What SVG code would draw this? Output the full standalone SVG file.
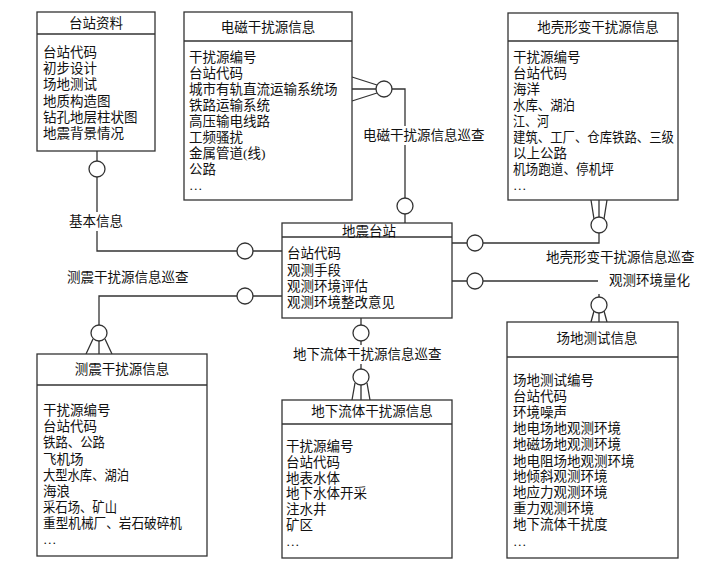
<svg xmlns="http://www.w3.org/2000/svg" width="701" height="573" viewBox="0 0 701 573">
<style>
text{font-family:"Liberation Serif","Noto Sans CJK SC",serif;font-size:13.5px;fill:#111}
.t{text-anchor:middle}
.box{fill:#fff;stroke:#333;stroke-width:1.3}
.ln{fill:none;stroke:#333;stroke-width:1.3}
.c{fill:#fff;stroke:#333;stroke-width:1.3}
.bg{fill:#fff}
</style>
<rect width="701" height="573" fill="#fff"/>
<g id="connectors">
<path class="ln" d="M97,151 V251 H282"/>
<path class="ln" d="M282,296 H99 V354 M93,339 L86,354 M105,339 L112,354"/>
<path class="ln" d="M352,89 H405 V223 M352,77 L377,85 M352,101 L377,93"/>
<path class="ln" d="M452,243 H599 V200 M594,219 L591,200 M604,219 L607,200"/>
<path class="ln" d="M452,281 H598 M599,294 V322 M594,311 L591,322 M604,311 L607,322"/>
<path class="ln" d="M361,318 V400 M355,383 L352,400 M367,383 L370,400"/>
<circle class="c" cx="97" cy="169" r="8"/>
<circle class="c" cx="245" cy="251" r="8"/>
<circle class="c" cx="245" cy="296" r="8"/>
<circle class="c" cx="99" cy="333" r="8"/>
<circle class="c" cx="384" cy="89" r="8"/>
<circle class="c" cx="405" cy="206" r="8"/>
<circle class="c" cx="475" cy="243" r="8"/>
<circle class="c" cx="599" cy="225" r="8"/>
<circle class="c" cx="475" cy="281" r="8"/>
<circle class="c" cx="599" cy="305" r="8"/>
<circle class="c" cx="361" cy="333" r="8"/>
<circle class="c" cx="361" cy="377" r="8"/>
<rect class="bg" x="66" y="212" width="60" height="19"/>
<text x="69" y="226">基本信息</text>
<text x="67" y="282">测震干扰源信息巡查</text>
<rect class="bg" x="361" y="126" width="128" height="19"/>
<text x="363" y="140">电磁干扰源信息巡查</text>
<text x="546" y="262">地壳形变干扰源信息巡查</text>
<text x="609" y="285">观测环境量化</text>
<rect class="bg" x="291" y="345" width="154" height="19"/>
<text x="293" y="359">地下流体干扰源信息巡查</text>
</g>
<g id="node-taizhan-ziliao">
<rect class="box" x="37" y="12" width="118" height="139"/>
<line class="ln" x1="37" y1="34" x2="155" y2="34"/>
<text class="t" x="96" y="28">台站资料</text>
<text x="43" y="57">台站代码</text>
<text x="43" y="73">初步设计</text>
<text x="43" y="89">场地测试</text>
<text x="43" y="106">地质构造图</text>
<text x="43" y="122">钻孔地层柱状图</text>
<text x="43" y="138">地震背景情况</text>
</g>
<g id="node-dianci">
<rect class="box" x="184" y="12" width="168" height="188"/>
<line class="ln" x1="184" y1="41" x2="352" y2="41"/>
<text class="t" x="268" y="32">电磁干扰源信息</text>
<text x="189" y="62">干扰源编号</text>
<text x="189" y="78">台站代码</text>
<text x="189" y="94">城市有轨直流运输系统场</text>
<text x="189" y="110">铁路运输系统</text>
<text x="189" y="126">高压输电线路</text>
<text x="189" y="142">工频骚扰</text>
<text x="189" y="158">金属管道(线)</text>
<text x="189" y="174">公路</text>
<text x="189" y="190">…</text>
</g>
<g id="node-diqiao">
<rect class="box" x="508" y="13" width="170" height="187"/>
<line class="ln" x1="508" y1="41" x2="678" y2="41"/>
<text class="t" x="598" y="32">地壳形变干扰源信息</text>
<text x="513" y="62">干扰源编号</text>
<text x="513" y="78">台站代码</text>
<text x="513" y="94">海洋</text>
<text x="513" y="110" textLength="62" lengthAdjust="spacingAndGlyphs">水库、湖泊</text>
<text x="513" y="126" textLength="36" lengthAdjust="spacingAndGlyphs">江、河</text>
<text x="513" y="142" textLength="161" lengthAdjust="spacingAndGlyphs">建筑、工厂、仓库铁路、三级</text>
<text x="513" y="158">以上公路</text>
<text x="513" y="174" textLength="101" lengthAdjust="spacingAndGlyphs">机场跑道、停机坪</text>
<text x="513" y="190">…</text>
</g>
<g id="node-dizhen-taizhan">
<rect class="box" x="282" y="223" width="170" height="95"/>
<line class="ln" x1="282" y1="237" x2="452" y2="237"/>
<text class="t" x="369" y="236">地震台站</text>
<text x="287" y="258">台站代码</text>
<text x="287" y="275">观测手段</text>
<text x="287" y="291">观测环境评估</text>
<text x="287" y="307">观测环境整改意见</text>
</g>
<g id="node-cezhen">
<rect class="box" x="37" y="354" width="170" height="202"/>
<line class="ln" x1="37" y1="385" x2="207" y2="385"/>
<text class="t" x="122" y="374">测震干扰源信息</text>
<text x="43" y="415">干扰源编号</text>
<text x="43" y="431">台站代码</text>
<text x="43" y="447" textLength="62" lengthAdjust="spacingAndGlyphs">铁路、公路</text>
<text x="43" y="464">飞机场</text>
<text x="43" y="480" textLength="86" lengthAdjust="spacingAndGlyphs">大型水库、湖泊</text>
<text x="43" y="496">海浪</text>
<text x="43" y="512" textLength="74" lengthAdjust="spacingAndGlyphs">采石场、矿山</text>
<text x="43" y="528" textLength="139" lengthAdjust="spacingAndGlyphs">重型机械厂、岩石破碎机</text>
<text x="43" y="544">…</text>
</g>
<g id="node-dixia-liuti">
<rect class="box" x="282" y="400" width="170" height="158"/>
<line class="ln" x1="282" y1="424" x2="452" y2="424"/>
<text class="t" x="372" y="416">地下流体干扰源信息</text>
<text x="286" y="451">干扰源编号</text>
<text x="286" y="467">台站代码</text>
<text x="286" y="483">地表水体</text>
<text x="286" y="498">地下水体开采</text>
<text x="286" y="514">注水井</text>
<text x="286" y="530">矿区</text>
<text x="286" y="546">…</text>
</g>
<g id="node-changdi">
<rect class="box" x="507" y="322" width="171" height="236"/>
<line class="ln" x1="507" y1="357" x2="678" y2="357"/>
<text class="t" x="597" y="343">场地测试信息</text>
<text x="513" y="385">场地测试编号</text>
<text x="513" y="401">台站代码</text>
<text x="513" y="417">环境噪声</text>
<text x="513" y="433">地电场地观测环境</text>
<text x="513" y="449">地磁场地观测环境</text>
<text x="513" y="466">地电阻场地观测环境</text>
<text x="513" y="481">地倾斜观测环境</text>
<text x="513" y="497">地应力观测环境</text>
<text x="513" y="513">重力观测环境</text>
<text x="513" y="529">地下流体干扰度</text>
<text x="513" y="546">…</text>
</g>
</svg>
